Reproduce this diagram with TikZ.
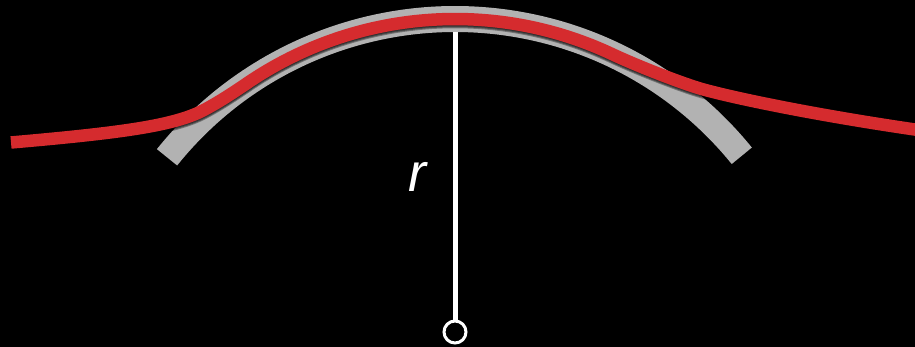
\documentclass[tikz,border=0pt]{standalone}
\usepackage{fontspec}
\setmainfont{Liberation Sans}
\definecolor{bandgray}{HTML}{B2B2B2}
\definecolor{ropered}{HTML}{D52B2E}
\begin{document}
\begin{tikzpicture}[x=1pt,y=1pt,
  band/.style={draw=bandgray,line width=26pt,line cap=butt},
  rope/.style={draw=ropered,line width=12.5pt,line cap=butt},
  ropeshadow/.style={draw=black,line width=12.5pt,opacity=0.35},
  radiusline/.style={draw=white,line width=5pt},
  pivot/.style={circle,draw=white,fill=black,line width=3pt,minimum size=22pt,inner sep=0pt},
  lbl/.style={text=white,font=\fontsize{54}{54}\selectfont\itshape,inner sep=0pt}]
\fill[black] (0,0) rectangle (915,-347);
\clip (0,0) rectangle (915,-347);
\useasboundingbox (0,0) rectangle (915,-347);
\coordinate (C) at (455,-388);
% gray band
\draw[band] (C) ++(141.3:369pt) arc[start angle=141.3,end angle=39,radius=369pt];
% rope path
\def\ropepath{(11,-142.5) .. controls (120,-133) and (170,-126) .. (200,-112)
  .. controls (218,-103) and (236.3,-90.5) .. (248.7,-82.1)
  arc[start angle=124,end angle=65,radius=369pt]
  .. controls (638,-66.3) and (680,-82.5) .. (700,-88.5)
  .. controls (720,-94.5) and (800,-113) .. (925,-131)}
\draw[ropeshadow,yshift=-1pt] \ropepath;
\draw[ropeshadow,yshift=-2pt] \ropepath;
\draw[ropeshadow,yshift=-3pt] \ropepath;
\draw[rope] \ropepath;
% radius
\node[pivot] (p) at (455,-332) {};
\coordinate (top) at (455,-32);
\draw[radiusline] (top) -- (p.north);
\node[lbl] (r) at (417,-176.5) {r};
\end{tikzpicture}
\end{document}
